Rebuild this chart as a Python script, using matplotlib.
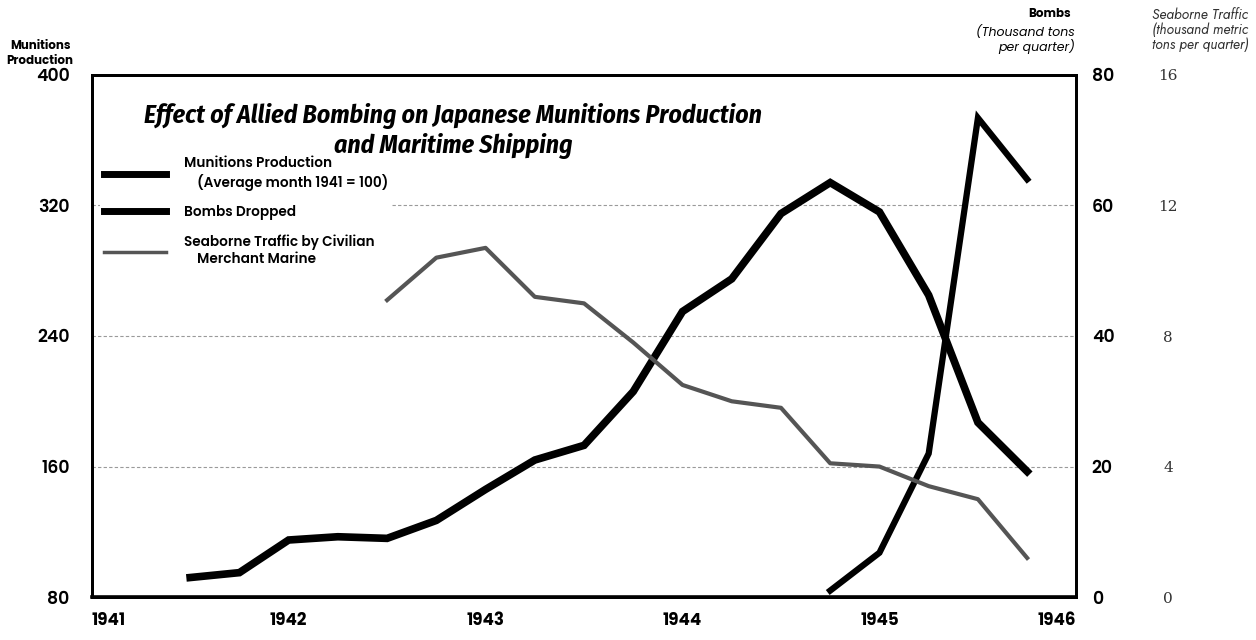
import matplotlib
matplotlib.use("Agg")
import matplotlib.pyplot as plt
from matplotlib.lines import Line2D

# Datos (trimestres, fin de trimestre)
quarters = [1941.5, 1941.75, 1942.0, 1942.25, 1942.5, 1942.75, 1943.0, 1943.25,
            1943.5, 1943.75, 1944.0, 1944.25, 1944.5, 1944.75, 1945.0, 1945.25,
            1945.5, 1945.75]
munitions = [92, 95, 115, 117, 116, 127, 146, 164, 173, 206, 255, 275, 315,
             334, 316, 265, 187, 157]

bomb_quarters = [1944.75, 1945.0, 1945.25, 1945.5, 1945.75]
bombs = [1, 6.8, 22, 73.4, 64]

sea_quarters = [1942.5, 1942.75, 1943.0, 1943.25, 1943.5, 1943.75, 1944.0,
                1944.25, 1944.5, 1944.75, 1945.0, 1945.25, 1945.5, 1945.75]
seaborne = [9.1, 10.4, 10.7, 9.2, 9.0, 7.8, 6.5, 6.0, 5.8, 4.1, 4.0, 3.4,
            3.0, 1.2]

years = [1941, 1942, 1943, 1944, 1945, 1946]
mun_ticks = [80, 160, 240, 320, 400]
bomb_ticks = [0, 20, 40, 60, 80]
sea_ticks = [0, 4, 8, 12, 16]

FONT = ['Poppins', 'DejaVu Sans']
LIGHT = ['Jost', 'DejaVu Sans']
TITLE_FONT = ['Fira Sans Condensed', 'DejaVu Sans']
plt.rcParams['font.family'] = FONT

fig = plt.figure(figsize=(12.56, 6.4), dpi=100)
ax = fig.add_axes([0.073, 0.067, 0.784, 0.816])
ax2 = ax.twinx()
ax3 = ax.twinx()

ax.set_xlim(1941, 1946)
ax.set_ylim(80, 400)
ax2.set_ylim(0, 80)
ax3.set_ylim(0, 16)

# lineas de rejilla punteadas
for v in mun_ticks[1:-1]:
    ax.axhline(v, color='#9a9a9a', lw=0.8, ls=(0, (3, 2)), zorder=0)

ax.plot(quarters, munitions, color='black', lw=5.5, solid_joinstyle='miter')
ax2.plot(bomb_quarters, bombs, color='black', lw=4.5, solid_joinstyle='miter')
ax3.plot(sea_quarters, seaborne, color='#555555', lw=3)

ax.set_xticks(years)
ax.set_xticklabels([str(y) for y in years], fontsize=12, fontweight='bold')
labs = ax.get_xticklabels()
labs[0].set_horizontalalignment('left')
labs[-1].set_horizontalalignment('right')
ax.tick_params(axis='x', length=0, pad=11)

ax.set_yticks(mun_ticks)
ax.set_yticklabels([str(v) for v in mun_ticks], fontsize=12.5, fontweight='semibold')
ax.tick_params(axis='y', length=0, pad=16)

ax2.set_yticks(bomb_ticks)
ax2.set_yticklabels([str(v) for v in bomb_ticks], fontsize=12.5, fontweight='semibold')
ax2.tick_params(axis='y', length=0, pad=11)

ax3.spines['right'].set_position(('outward', 66))
ax3.spines['right'].set_visible(False)
ax3.set_yticks(sea_ticks)
ax3.set_yticklabels([str(v) for v in sea_ticks], fontsize=11,
                    family='DejaVu Serif', color='#333333')
ax3.tick_params(axis='y', length=0, pad=0)
for t in ax3.get_yticklabels():
    t.set_horizontalalignment('center')

for a in (ax, ax2, ax3):
    for s in a.spines.values():
        s.set_linewidth(2)
ax.spines['bottom'].set_linewidth(2.6)

ax.text(0.367, 0.893, 'Effect of Allied Bombing on Japanese Munitions Production\nand Maritime Shipping',
        transform=ax.transAxes, ha='center', va='center', fontsize=18.5,
        family=TITLE_FONT, fontweight='bold', fontstyle='italic', linespacing=1.2,
        zorder=10)

handles = [Line2D([], [], color='black', lw=5),
           Line2D([], [], color='black', lw=5),
           Line2D([], [], color='#555555', lw=2.5)]
leg = ax.legend(handles,
                ['Munitions Production\n    (Average month 1941 = 100)',
                 'Bombs Dropped',
                 'Seaborne Traffic by Civilian\n    Merchant Marine'],
                loc='upper left', bbox_to_anchor=(0.008, 0.852), borderaxespad=0,
                borderpad=0.3, frameon=True, handlelength=4.6, handletextpad=1.3,
                labelspacing=1.05, prop={'family': FONT, 'weight': 'semibold', 'size': 9.8})
leg.get_frame().set_facecolor('white')
leg.get_frame().set_edgecolor('none')
leg.get_frame().set_alpha(1)
leg.set_zorder(5)

fig.text(0.032, 0.916, 'Munitions\nProduction', ha='center', va='center',
         fontsize=8.5, fontweight='bold', linespacing=1.35)
fig.text(0.853, 0.978, 'Bombs', ha='right', va='center', fontsize=8.5, fontweight='bold')
fig.text(0.856, 0.938, '(Thousand tons\nper quarter)', ha='right', va='center',
         fontsize=9, fontstyle='italic', linespacing=1.05)
fig.text(0.994, 0.953, 'Seaborne Traffic\n(thousand metric\ntons per quarter)', ha='right',
         va='center', fontsize=10, family=LIGHT, fontstyle='italic', linespacing=1.05,
         color='#333333')

fig.savefig('out.png', dpi=100)
